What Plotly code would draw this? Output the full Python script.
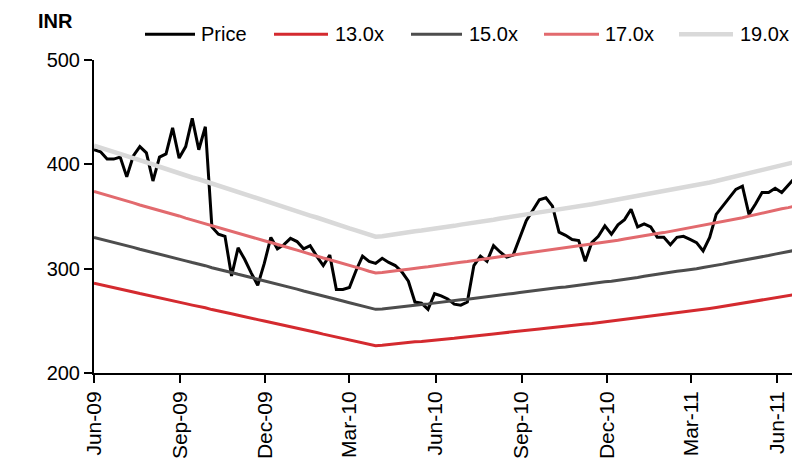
import pandas as pd
import plotly.graph_objects as go

# Weekly observations, Jun-2009 to Jun-2011
weeks = pd.date_range("2009-06-01", periods=108, freq="7D")

# Share price (INR), weekly close
price = [
    414, 412, 405, 405, 407, 388, 408, 417, 411, 384,
    407, 410, 435, 406, 417, 444, 414, 436, 340, 333,
    331, 293, 320, 309, 296, 284, 305, 330, 319, 323,
    329, 326, 319, 322, 312, 303, 313, 280, 280, 282,
    298, 312, 307, 305, 310, 306, 303, 297, 288, 268,
    267, 261, 276, 274, 271, 266, 265, 268, 303, 312,
    307, 322, 316, 311, 313, 330, 346, 356, 366, 368,
    360, 335, 332, 328, 327, 307, 325, 331, 341, 333,
    342, 347, 357, 340, 343, 340, 330, 330, 323, 330,
    331, 328, 325, 317, 330, 352, 360, 368, 376, 379,
    352, 362, 373, 373, 377, 373, 380, 387,
]

# One-year forward EPS (INR) used for the P/E bands
fwd_eps = [
    22.00, 21.90, 21.80, 21.67, 21.57, 21.48, 21.36, 21.24, 21.14, 21.05,
    20.93, 20.81, 20.72, 20.62, 20.50, 20.39, 20.30, 20.19, 20.06, 19.97,
    19.87, 19.75, 19.64, 19.55, 19.44, 19.32, 19.22, 19.12, 19.00, 18.89,
    18.80, 18.69, 18.57, 18.47, 18.37, 18.25, 18.15, 18.05, 17.93, 17.82,
    17.72, 17.62, 17.50, 17.40, 17.43, 17.49, 17.53, 17.57, 17.62, 17.68,
    17.71, 17.75, 17.81, 17.85, 17.89, 17.95, 18.01, 18.05, 18.11, 18.17,
    18.21, 18.26, 18.32, 18.38, 18.42, 18.47, 18.53, 18.59, 18.63, 18.68,
    18.74, 18.79, 18.83, 18.89, 18.95, 18.99, 19.04, 19.10, 19.16, 19.20,
    19.25, 19.32, 19.39, 19.44, 19.51, 19.58, 19.63, 19.68, 19.75, 19.83,
    19.88, 19.93, 20.00, 20.08, 20.14, 20.21, 20.29, 20.38, 20.45, 20.52,
    20.61, 20.70, 20.77, 20.84, 20.93, 21.02, 21.09, 21.17,
]

multiples = [13.0, 15.0, 17.0, 19.0]
band_labels = ["13.0x", "15.0x", "17.0x", "19.0x"]
band_colors = ["#d42a2f", "#4d4d4d", "#e26a6e", "#d9d9d9"]
band_widths = [3, 3, 3, 4.5]

y_ticks = [200, 300, 400, 500]

FONT = "Liberation Sans, Arial, sans-serif"

fig = go.Figure()
fig.add_trace(go.Scatter(x=weeks, y=price, mode="lines", name="Price",
                         line=dict(color="#000000", width=3)))
for m, lab, col, w in zip(multiples, band_labels, band_colors, band_widths):
    fig.add_trace(go.Scatter(x=weeks, y=[round(e * m, 2) for e in fwd_eps],
                             mode="lines", name=lab,
                             line=dict(color=col, width=w)))

# Plot area geometry in pixels (used to place the hand-drawn legend)
W, H = 792, 459
L, R, T, B = 94, 0, 60, 84
pw, ph = W - L - R, H - T - B


def px_x(p):
    return (p - L) / pw


def px_y(p):
    return 1 + (T - p) / ph


legend_items = [
    ("Price", "#000000", 3, 145, 195, 199),
    ("13.0x", band_colors[0], 3, 274, 328, 333),
    ("15.0x", band_colors[1], 3, 411, 462, 467),
    ("17.0x", band_colors[2], 3, 544, 599, 603),
    ("19.0x", band_colors[3], 4.5, 679, 733, 738),
]
shapes, annotations = [], []
ly = 34
for text, col, w, x0, x1, tx in legend_items:
    shapes.append(dict(type="line", xref="paper", yref="paper",
                       x0=px_x(x0), x1=px_x(x1), y0=px_y(ly), y1=px_y(ly),
                       line=dict(color=col, width=w)))
    annotations.append(dict(text=text, xref="paper", yref="paper",
                            x=px_x(tx), y=px_y(ly), xanchor="left",
                            yanchor="middle", showarrow=False,
                            font=dict(family=FONT, size=20, color="#000000")))

annotations.append(dict(text="<b>INR</b>", xref="paper", yref="paper",
                        x=px_x(55), y=px_y(21), xanchor="center",
                        yanchor="middle", showarrow=False,
                        font=dict(family=FONT, size=20, color="#000000")))

fig.update_layout(
    width=W, height=H,
    margin=dict(l=L, r=R, t=T, b=B),
    paper_bgcolor="white", plot_bgcolor="white",
    showlegend=False,
    font=dict(family=FONT, size=20, color="#000000"),
    shapes=shapes, annotations=annotations,
)
fig.update_xaxes(
    type="date", range=["2009-06-01", "2011-06-17"],
    tick0="2009-06-01", dtick="M3", tickformat="%b-%y", tickangle=-90,
    ticks="outside", ticklen=8, tickwidth=2, tickcolor="#000000",
    showline=True, linecolor="#000000", linewidth=2,
    showgrid=False, zeroline=False,
    tickfont=dict(family=FONT, size=21, color="#000000"),
)
fig.update_yaxes(
    range=[200, 500], tickvals=y_ticks,
    ticks="outside", ticklen=8, tickwidth=2, tickcolor="#000000",
    showline=True, linecolor="#000000", linewidth=2,
    showgrid=False, zeroline=False,
    tickfont=dict(family=FONT, size=20, color="#000000"),
)

fig.write_html("out.html")
